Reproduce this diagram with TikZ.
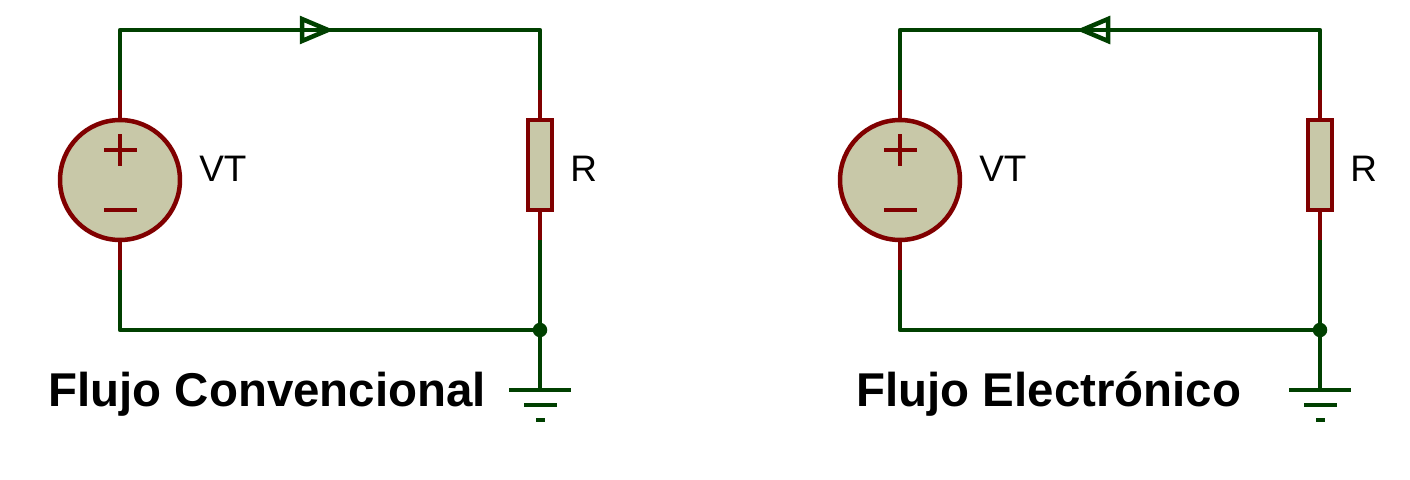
\documentclass[tikz,border=0pt]{standalone}
\usepackage{fontspec}
\setmainfont{Liberation Sans}
\usepackage{xcolor}
\definecolor{wire}{RGB}{0,64,0}
\definecolor{part}{RGB}{128,0,0}
\definecolor{part-fill}{RGB}{200,200,168}
\tikzset{
	wirepath/.style={wire,line width=0.09cm},
	partpath/.style={part,line width=0.09cm},
	source/.style={circle,draw=part,fill=part-fill,line width=0.09cm,minimum size=2.4cm,inner sep=0pt},
	resistor/.style={rectangle,draw=part,fill=part-fill,line width=0.09cm,minimum width=0.48cm,minimum height=1.8cm,inner sep=0pt},
	junction/.style={circle,fill=wire,minimum size=0.29cm,inner sep=0pt},
	partlabel/.style={anchor=base west,inner sep=0pt,font=\fontsize{21}{21}\selectfont},
	title/.style={anchor=base west,inner sep=0pt,font=\fontsize{27}{27}\selectfont\bfseries},
}

\begin{document}
\begin{tikzpicture}[x=0.02cm,y=-0.02cm]
	\useasboundingbox (0,0) rectangle (1410,480);
	\foreach \ox/\tip/\base in {0/328/302,780/302/328}{
	\begin{scope}[xshift=\ox*0.02cm]
		\node (vt) [source] at (120,180) {};
		\node (r) [resistor] at (540,165) {};
		\node (dot) [junction] at (540,330) {};
		\coordinate (vt-top) at (120,90);
		\coordinate (vt-bot) at (120,270);
		\coordinate (r-top) at (540,90);
		\coordinate (r-bot) at (540,240);
		\coordinate (gnd) at (540,390);
		% wires
		\draw[wirepath,line join=round] (vt-top) -- (120,30) -- (540,30) -- (r-top);
		\draw[wirepath,line join=round] (vt-bot) -- (120,330) -- (dot.center);
		\draw[wirepath] (r-bot) -- (dot.center) -- (gnd);
		% pins
		\draw[partpath] (vt-top) -- (vt.north);
		\draw[partpath] (vt.south) -- (vt-bot);
		\draw[partpath] (r-top) -- (r.north);
		\draw[partpath] (r.south) -- (r-bot);
		% polarity
		\draw[partpath] (104,150) -- (137,150);
		\draw[partpath] (120,134) -- (120,166);
		\draw[partpath] (104,210) -- (137,210);
		% current arrow
		\draw[wirepath,miter limit=10] (\base,19) -- (\tip,30) -- (\base,41) -- cycle;
		% ground
		\draw[wirepath] (509,390) -- (571,390);
		\draw[wirepath] (524,405) -- (557,405);
		\draw[wirepath] (536,420) -- (545,420);
		\node[partlabel] (vt-label) at (199,181.5) {VT};
		\node[partlabel] (r-label) at (570,181.5) {R};
	\end{scope}
	}
	\node[title] (left-title) at (48,406) {Flujo Convencional};
	\node[title] (right-title) at (856,406) {Flujo Electrónico};
\end{tikzpicture}
\end{document}
